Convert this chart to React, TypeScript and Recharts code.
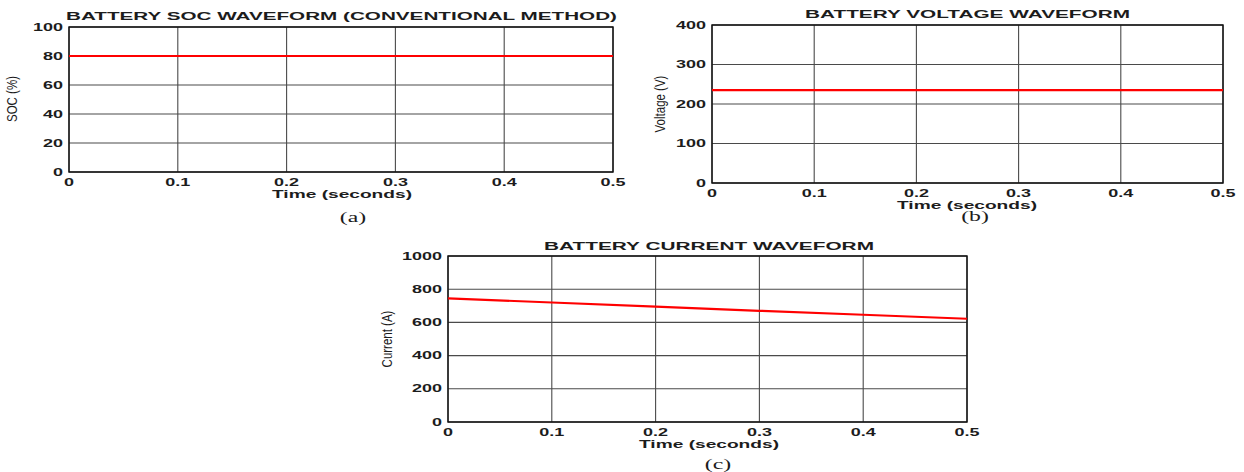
import { CartesianGrid, Line, LineChart, ReferenceArea, XAxis, YAxis } from "recharts";

const timeS = [0, 0.1, 0.2, 0.3, 0.4, 0.5];
const socPct = [80, 80, 80, 80, 80, 80];
const voltageV = [235, 235, 235, 235, 235, 235];
const currentA = [745, 720, 695, 670, 646, 622];

const timeTicks = [0, 0.1, 0.2, 0.3, 0.4, 0.5];
const socTicks = [0, 20, 40, 60, 80, 100];
const voltTicks = [0, 100, 200, 300, 400];
const currTicks = [0, 200, 400, 600, 800, 1000];

const FONT = "'Liberation Sans', Arial, sans-serif";
const SERIF = "'Liberation Serif', 'Times New Roman', serif";
const INK = "#1c1c1c";
const Y_AXIS_W = 60;
const X_AXIS_H = 30;

const XTick = (props: any) => {
  const { x, y, payload } = props;
  return (
    <g transform={`translate(${x},${y + 14})`}>
      <text transform="scale(1.8,1)" textAnchor="middle" fontSize={10} fontWeight="bold" fill={INK} fontFamily={FONT}>
        {String(payload.value)}
      </text>
    </g>
  );
};

const YTick = (props: any) => {
  const { x, y, payload } = props;
  return (
    <g transform={`translate(${x - 6},${y + 3.5})`}>
      <text transform="scale(1.8,1)" textAnchor="end" fontSize={10} fontWeight="bold" fill={INK} fontFamily={FONT}>
        {String(payload.value)}
      </text>
    </g>
  );
};

type Box = { left: number; top: number; w: number; h: number };
type Plot = { l: number; t: number; r: number; b: number };

function Panel({ box, plot, values, yTicks }: { box: Box; plot: Plot; values: number[]; yTicks: number[] }) {
  const rows = timeS.map((t, i) => ({ t, v: values[i] }));
  const yMax = yTicks[yTicks.length - 1];
  const margin = {
    top: plot.t - box.top,
    left: plot.l - box.left - Y_AXIS_W,
    right: box.left + box.w - plot.r,
    bottom: box.top + box.h - plot.b - X_AXIS_H,
  };
  return (
    <div style={{ position: "absolute", left: box.left, top: box.top }}>
      <LineChart width={box.w} height={box.h} data={rows} margin={margin}>
        <CartesianGrid stroke="#4a4a4a" strokeWidth={1.1} />
        <XAxis
          type="number"
          dataKey="t"
          domain={[0, 0.5]}
          ticks={timeTicks}
          height={X_AXIS_H}
          axisLine={false}
          tickLine={false}
          tickSize={0}
          tickMargin={0}
          tick={<XTick />}
          interval={0}
        />
        <YAxis
          type="number"
          domain={[0, yMax]}
          ticks={yTicks}
          width={Y_AXIS_W}
          axisLine={false}
          tickLine={false}
          tickSize={0}
          tickMargin={0}
          tick={<YTick />}
          interval={0}
        />
        <ReferenceArea x1={0} x2={0.5} y1={0} y2={yMax} fill="none" stroke="#111" strokeWidth={1.4} />
        <Line type="linear" dataKey="v" stroke="#ff0000" strokeWidth={2.2} dot={false} isAnimationActive={false} />
      </LineChart>
    </div>
  );
}

const titleStyle = { fontFamily: FONT, fontWeight: "bold" as const, fontSize: 10.5, fill: INK };
const yLabelStyle = { fontFamily: FONT, fontSize: 11.5, fill: INK, textAnchor: "middle" as const };

export default function App() {
  return (
    <div style={{ position: "absolute", left: 0, top: 0, width: 1244, height: 472, background: "#fff", overflow: "hidden" }}>
      <Panel box={{ left: 0, top: 0, w: 640, h: 235 }} plot={{ l: 69, t: 27, r: 613, b: 172 }} values={socPct} yTicks={socTicks} />
      <Panel box={{ left: 640, top: 0, w: 604, h: 235 }} plot={{ l: 712, t: 25, r: 1223, b: 183 }} values={voltageV} yTicks={voltTicks} />
      <Panel box={{ left: 370, top: 235, w: 620, h: 237 }} plot={{ l: 448, t: 256, r: 967, b: 422 }} values={currentA} yTicks={currTicks} />
      <svg width={1244} height={472} style={{ position: "absolute", left: 0, top: 0, pointerEvents: "none" }}>
        <text x={66} y={20} textLength={551} lengthAdjust="spacingAndGlyphs" {...titleStyle}>
          BATTERY SOC WAVEFORM (CONVENTIONAL METHOD)
        </text>
        <text x={805} y={18} textLength={325} lengthAdjust="spacingAndGlyphs" {...titleStyle}>
          BATTERY VOLTAGE WAVEFORM
        </text>
        <text x={544} y={250} textLength={330} lengthAdjust="spacingAndGlyphs" {...titleStyle}>
          BATTERY CURRENT WAVEFORM
        </text>

        <text x={272} y={198} textLength={140} lengthAdjust="spacingAndGlyphs" {...titleStyle}>
          Time (seconds)
        </text>
        <text x={897} y={209} textLength={140} lengthAdjust="spacingAndGlyphs" {...titleStyle}>
          Time (seconds)
        </text>
        <text x={639} y={448} textLength={140} lengthAdjust="spacingAndGlyphs" {...titleStyle}>
          Time (seconds)
        </text>

        <text transform="translate(17,99) rotate(-90) scale(1,1.35)" {...yLabelStyle}>
          SOC (%)
        </text>
        <text transform="translate(665,104) rotate(-90) scale(1,1.35)" {...yLabelStyle}>
          Voltage (V)
        </text>
        <text transform="translate(392,339) rotate(-90) scale(1,1.35)" {...yLabelStyle}>
          Current (A)
        </text>

        <g transform="translate(353,222) scale(1.7,1)">
          <text textAnchor="middle" fontFamily={SERIF} fontSize={14} fill={INK}>(a)</text>
        </g>
        <g transform="translate(975,221) scale(1.7,1)">
          <text textAnchor="middle" fontFamily={SERIF} fontSize={14} fill={INK}>(b)</text>
        </g>
        <g transform="translate(718,469) scale(1.7,1)">
          <text textAnchor="middle" fontFamily={SERIF} fontSize={14} fill={INK}>(c)</text>
        </g>
      </svg>
    </div>
  );
}
